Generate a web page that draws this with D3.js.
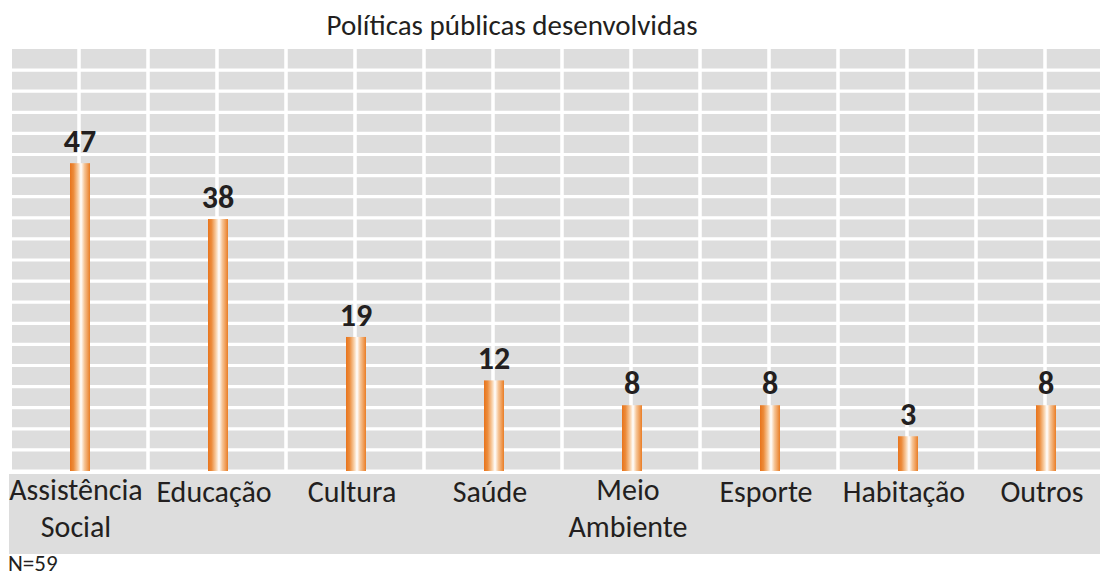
<!DOCTYPE html>
<html>
<head>
<meta charset="utf-8">
<script src="https://cdn.jsdelivr.net/npm/d3@7"></script>
<style>
  html, body { margin: 0; padding: 0; background: #fff; }
  svg { display: block; }
  text { font-family: Carlito, Lato, "Open Sans", sans-serif; fill: #231f20; }
</style>
</head>
<body>
<svg id="chart" width="1100" height="579"></svg>
<script>
const title = "Políticas públicas desenvolvidas";
const categories = ["Assistência Social", "Educação", "Cultura", "Saúde", "Meio Ambiente", "Esporte", "Habitação", "Outros"];
const categoryLines = [["Assistência", "Social"], ["Educação"], ["Cultura"], ["Saúde"], ["Meio", "Ambiente"], ["Esporte"], ["Habitação"], ["Outros"]];
const values = [47, 38, 19, 12, 8, 8, 3, 8];
const note = "N=59";

const svg = d3.select("#chart");
const W = 1100, H = 579;

const plot = { left: 10, top: 49, bottom: 471 };
const x = d3.scaleBand().domain(categories).range([10, 1114]).padding(0);
const y = d3.scaleLinear().domain([-2.6, 65.4]).range([plot.bottom, plot.top]);

const defs = svg.append("defs");
const grad = defs.append("linearGradient").attr("id", "barGrad").attr("x1", "0%").attr("x2", "100%").attr("y1", "0%").attr("y2", "0%");
[["0%", "#e8731b"], ["18%", "#ec8c3c"], ["40%", "#f8cfa6"], ["55%", "#ffffff"], ["72%", "#f6c597"], ["100%", "#e97d26"]]
  .forEach(([o, c]) => grad.append("stop").attr("offset", o).attr("stop-color", c));

svg.append("rect").attr("x", plot.left + 2).attr("y", plot.top).attr("width", W - plot.left - 2).attr("height", plot.bottom - plot.top)
  .attr("fill", "#dddddd");

const rows = 20;
const rowH = (plot.bottom - plot.top) / rows;
const hl = d3.range(1, rows + 1).map(i => plot.top + i * rowH);
svg.append("g").selectAll("line").data(hl).join("line")
  .attr("x1", plot.left).attr("x2", W)
  .attr("y1", d => d).attr("y2", d => d)
  .attr("stroke", "#ffffff").attr("stroke-width", 3.2);

const vl = [];
categories.forEach((c, i) => {
  vl.push(x(c) + x.bandwidth() / 2);
  if (i < categories.length - 1) vl.push(x(c) + x.bandwidth());
});
svg.append("g").selectAll("line").data(vl).join("line")
  .attr("x1", d => d).attr("x2", d => d)
  .attr("y1", plot.top).attr("y2", plot.bottom)
  .attr("stroke", "#ffffff").attr("stroke-width", 3.5);

svg.append("rect").attr("x", 9).attr("y", 474).attr("width", W - 9).attr("height", 80).attr("fill", "#dddddd");

const barW = 20;
svg.append("g").selectAll("rect").data(values).join("rect")
  .attr("x", (d, i) => x(categories[i]) + x.bandwidth() / 2 - barW / 2 + 1)
  .attr("y", d => y(d))
  .attr("width", barW)
  .attr("height", d => plot.bottom - y(d))
  .attr("fill", "url(#barGrad)");

svg.append("g").selectAll("text").data(values).join("text")
  .attr("x", (d, i) => x(categories[i]) + x.bandwidth() / 2 + 1)
  .attr("y", d => y(d) - 11)
  .attr("text-anchor", "middle")
  .style("font-size", "32px").style("font-weight", "bold")
  .text(d => d);

const lab = svg.append("g");
categoryLines.forEach((lines, i) => {
  const cx = x(categories[i]) + x.bandwidth() / 2 - 3;
  const t = lab.append("text").attr("text-anchor", "middle").style("font-size", "30px");
  const base = lines.length > 1 ? 500 : 502;
  lines.forEach((ln, j) => {
    t.append("tspan").attr("x", cx).attr("y", base + j * 36.5).text(ln);
  });
});

svg.append("text").attr("x", 512).attr("y", 35).attr("text-anchor", "middle")
  .style("font-size", "29px").text(title);

svg.append("text").attr("x", 8).attr("y", 571).style("font-size", "23px").text(note);
</script>
</body>
</html>
